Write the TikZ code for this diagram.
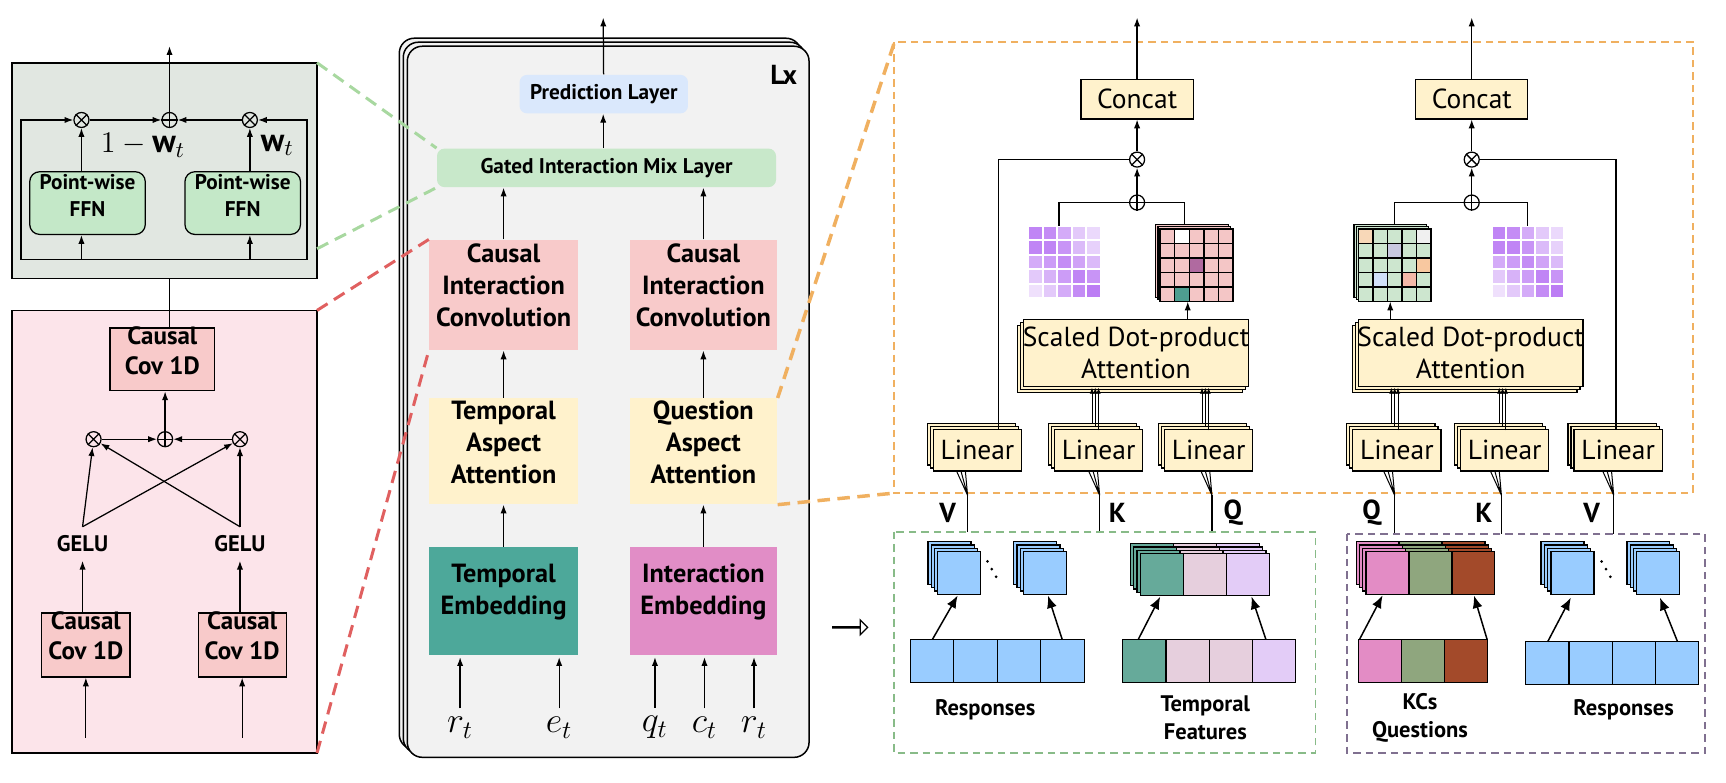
\documentclass[tikz,border=0pt]{standalone}
\usepackage{fontspec}
\setmainfont{PT Sans}
\usetikzlibrary{arrows.meta,shadows,fit,shapes.arrows,calc}
\definecolor{panelgray}{HTML}{E1E7E1}
\definecolor{panelpink}{HTML}{FCE4EA}
\definecolor{ffngreen}{HTML}{C4E8C8}
\definecolor{cpink}{HTML}{F8CACA}
\definecolor{predblue}{HTML}{DAE8FC}
\definecolor{gatedgreen}{HTML}{C8E8CA}
\definecolor{yel}{HTML}{FFF2CC}
\definecolor{tealE}{HTML}{4DA89A}
\definecolor{magE}{HTML}{E18DC6}
\definecolor{midgray}{HTML}{F2F2F2}
\definecolor{mpurple}{HTML}{B066F2}
\definecolor{mpink}{HTML}{F4C6C6}
\definecolor{mgreen}{HTML}{CDE6CF}
\definecolor{sA}{HTML}{B06AA0}
\definecolor{sB}{HTML}{4E9E90}
\definecolor{sC}{HTML}{F8D8B8}
\definecolor{sD}{HTML}{F0F0F0}
\definecolor{sE}{HTML}{C8C8E0}
\definecolor{sF}{HTML}{F8C8A0}
\definecolor{sG}{HTML}{D0E0F8}
\definecolor{sH}{HTML}{F4B8A8}
\definecolor{blueC}{HTML}{99CCFF}
\definecolor{tealC}{HTML}{66AA9A}
\definecolor{lpinkC}{HTML}{E6CFDD}
\definecolor{lvioC}{HTML}{E3CCF7}
\definecolor{kc1}{HTML}{E38CC5}
\definecolor{kc2}{HTML}{8FA67E}
\definecolor{kc3}{HTML}{A34A2A}
\definecolor{orangeD}{HTML}{F0B060}
\definecolor{greenD}{HTML}{88BB88}
\definecolor{purpleD}{HTML}{807090}
\definecolor{redD}{HTML}{E06060}
\definecolor{greenL}{HTML}{A8D8A0}
\tikzset{
  x=0.44pt,y=-0.44pt,
  arr/.style={-{Latex[length=3.5pt,width=2.5pt]},line width=0.5pt},
  ln/.style={line width=0.5pt},
  bx/.style={inner sep=0pt,align=center,font=\bfseries\fontsize{10.5}{12.8}\selectfont},
  lbox/.style={bx,draw,line width=0.5pt,rounded corners=4pt,fill=ffngreen,font=\bfseries\fontsize{8.5}{10.5}\selectfont},
  cbox/.style={bx,draw,line width=0.5pt,fill=cpink,font=\bfseries\fontsize{10}{12}\selectfont},
  opn/.style={circle,draw,line width=0.5pt,minimum size=6pt,inner sep=0pt},
  ctext/.style={label={[font=\fontsize{11}{13}\selectfont,align=center,inner sep=0pt]center:#1}},
  lin/.style={draw,line width=0.5pt,fill=yel,inner sep=0pt,
     double copy shadow={shadow xshift=-1.2pt,shadow yshift=1.2pt}},
  sdpa/.style={draw,line width=0.5pt,fill=yel,inner sep=0pt,
     double copy shadow={shadow xshift=-1.2pt,shadow yshift=-1.2pt}},
  lab/.style={font=\bfseries\fontsize{9}{11}\selectfont,align=center},
  qkv/.style={font=\bfseries\fontsize{11}{13}\selectfont},
}
\newcommand\otimesnode[3]{\node[opn] (#1) at (#2,#3) {}; \draw[ln] (#1.north west)--(#1.south east) (#1.north east)--(#1.south west);}
\newcommand\oplusnode[3]{\node[opn] (#1) at (#2,#3) {}; \draw[ln] (#1.north)--(#1.south) (#1.east)--(#1.west);}
\newcommand\purplemat[2]{%
 \foreach \vals [count=\r from 0] in {{80,75,55,35,25},{80,80,70,45,30},{55,65,75,60,45},{35,50,65,80,70},{20,35,55,75,85}}{%
  \foreach \v [count=\c from 0] in \vals {%
   \filldraw[fill=mpurple!\v!white,draw=white,line width=0.8pt] ({#1+\c*13.2},{#2+\r*13.2}) rectangle +(13.2,13.2);
  }}}
\newcommand\gridmat[4]{% x0 y0 color specials
 \filldraw[fill=#3,line width=0.5pt] ({#1-4},{#2-4}) rectangle +(66,66);
 \filldraw[fill=#3,line width=0.5pt] ({#1-2},{#2-2}) rectangle +(66,66);
 \filldraw[fill=#3,line width=0.5pt] (#1,#2) rectangle +(66,66);
 \foreach \sr/\sc/\col in {#4} {\fill[\col] ({#1+\sc*13.2},{#2+\sr*13.2}) rectangle +(13.2,13.2);}
 \foreach \k in {1,2,3,4} {\draw[line width=0.6pt] ({#1+\k*13.2},#2) -- +(0,66); \draw[line width=0.6pt] (#1,{#2+\k*13.2}) -- +(66,0);}
 \draw[line width=0.6pt] (#1,#2) rectangle +(66,66);}
\newcommand\stackrow[5]{% x0 y0 cellw cellh colors
 \foreach \col [count=\i from 0] in {#5} {\filldraw[fill=\col,line width=0.5pt] ({#1+\i*#3},#2) rectangle +(#3,#4);}}
\begin{document}
\begin{tikzpicture}
\useasboundingbox (0,0) rectangle (1568,711);
% ================= LEFT TOP PANEL
\draw[line width=0.7pt,fill=panelgray] (11,57) rectangle (288,253);
\node[lbox,fit={(27,156)(132,213)}] (ffnL) {Point-wise\\FFN};
\node[lbox,fit={(168,156)(273,213)}] (ffnR) {Point-wise\\FFN};
\otimesnode{mL}{74}{109}
\oplusnode{pT}{154}{109}
\otimesnode{mR}{227}{109}
\coordinate (topout) at (154,42);
\draw[arr] (pT) -- (topout);
\draw[arr] (ffnL.north-|mL) -- (mL);
\draw[arr] (ffnR.north-|mR) -- (mR);
\draw[arr] (mL) -- (pT);
\draw[arr] (mR) -- (pT);
\draw[ln] (19,236) -- (279,236);
\draw[arr] (19,236) |- (mL);
\draw[arr] (279,236) |- (mR);
\draw[arr] (74,236) -- (ffnL.south-|74,0);
\draw[arr] (227,236) -- (ffnR.south-|227,0);
\node[font=\fontsize{13}{15}\selectfont] at (130,132) {$1-\mathbf{w}_t$};
\node[font=\fontsize{13}{15}\selectfont] at (252,132) {$\mathbf{w}_t$};
% ================= LEFT BOTTOM PANEL
\draw[line width=0.7pt,fill=panelpink] (11,282) rectangle (288,684);
\node[cbox,fit={(100,298)(195,355)}] (ccTop) {Causal\\Cov 1D};
\draw[ln] (154,253) -- (ccTop.north-|154,0);
\oplusnode{pB}{150}{399}
\otimesnode{mBL}{85}{399}
\otimesnode{mBR}{218}{399}
\draw[arr] (pB) -- (ccTop.south-|pB);
\draw[arr] (mBL) -- (pB);
\draw[arr] (mBR) -- (pB);
\node[lab] (geluL) at (75,494) {GELU};
\node[lab] (geluR) at (218,494) {GELU};
\draw[arr] (geluL.north) -- (mBL);
\draw[arr] (geluL.north) -- (mBR);
\draw[arr] (geluR.north) -- (mBR);
\draw[arr] (geluR.north) -- (mBL);
\node[cbox,fit={(38,557)(118,615)}] (ccL) {Causal\\Cov 1D};
\node[cbox,fit={(180,557)(260,615)}] (ccR) {Causal\\Cov 1D};
\draw[arr] (ccL.north-|75,0) -- (geluL.south);
\draw[arr] (ccR.north-|218,0) -- (geluR.south);
\coordinate (inL) at (78,670); \coordinate (inR) at (220,670);
\draw[arr] (inL) -- (ccL.south-|inL);
\draw[arr] (inR) -- (ccR.south-|inR);
% ================= MIDDLE PANEL
\node[draw,line width=0.6pt,fill=midgray,rounded corners=6pt,inner sep=0pt,
  double copy shadow={shadow xshift=-1.6pt,shadow yshift=1.6pt},fit={(370,42)(735,688)}] (mid) {};
\node[font=\bfseries\fontsize{11}{13}\selectfont] at (712,68) {Lx};
\node[fill=predblue,rounded corners=3pt,inner sep=0pt,fit={(472,68)(625,103)},label={[font=\bfseries\fontsize{8.5}{10}\selectfont]center:Prediction Layer}] (pred) {};
\node[fill=gatedgreen,rounded corners=3pt,inner sep=0pt,fit={(397,135)(705,170)},label={[font=\bfseries\fontsize{8.5}{10}\selectfont]center:Gated Interaction Mix Layer}] (gated) {};
\coordinate (midout) at (548,16);
\draw[arr] (pred) -- (midout);
\draw[arr] (gated.north-|548,0) -- (pred.south-|548,0);
\node[bx,fill=cpink,fit={(390,218)(525,318)}] (convL) {Causal\\Interaction\\Convolution};
\node[bx,fill=cpink,fit={(572,218)(706,318)}] (convR) {Causal\\Interaction\\Convolution};
\node[bx,fill=yel,fit={(390,362)(525,458)}] (attL) {Temporal\\Aspect\\Attention};
\node[bx,fill=yel,fit={(572,362)(706,458)}] (attR) {Question\\Aspect\\Attention};
\node[bx,fill=tealE,fit={(390,497)(525,595)}] (embL) {Temporal\\Embedding};
\node[bx,fill=magE,fit={(572,497)(706,595)}] (embR) {Interaction\\Embedding};
\foreach \a/\b in {embL/attL,attL/convL,embR/attR,attR/convR}{\draw[arr] (\a) -- (\b);}
\draw[arr] (convL) -- (convL|-gated.south);
\draw[arr] (convR) -- (convR|-gated.south);
\foreach \x/\t in {418/r_t,508/e_t,595/q_t,640/c_t,685/r_t}{
  \node[font=\fontsize{14}{16}\selectfont] (in\x) at (\x,661) {$\t$};
  \draw[arr] (in\x.north) -- (\x,597);}
% dashed zoom lines
\draw[greenL,line width=1.2pt,dash pattern=on 5pt off 3pt] (288,57) -- (gated.north west);
\draw[greenL,line width=1.2pt,dash pattern=on 5pt off 3pt] (288,226) -- (gated.south west);
\draw[redD,line width=1.2pt,dash pattern=on 5pt off 3pt] (288,282) -- (convL.north west);
\draw[redD,line width=1.2pt,dash pattern=on 5pt off 3pt] (288,684) -- (convL.south west);
% ================= RIGHT ATTENTION
\draw[orangeD,line width=0.8pt,dash pattern=on 3pt off 2pt] (812,38) rectangle (1538,448);
\draw[orangeD,line width=1.4pt,dash pattern=on 5pt off 3pt] (attR.north east) -- (812,40);
\draw[orangeD,line width=1.4pt,dash pattern=on 5pt off 3pt] (attR.south east) -- (812,448);
\node[lin,ctext=Linear,fit={(848,390)(928,428)}] (linV1) {};
\node[lin,ctext=Linear,fit={(958,390)(1038,428)}] (linK1) {};
\node[lin,ctext=Linear,fit={(1058,390)(1138,428)}] (linQ1) {};
\node[lin,ctext=Linear,fit={(1229,390)(1309,428)}] (linQ2) {};
\node[lin,ctext=Linear,fit={(1327,390)(1407,428)}] (linK2) {};
\node[lin,ctext=Linear,fit={(1430,390)(1510,428)}] (linV2) {};
\node[sdpa,ctext={Scaled Dot-product\\Attention},fit={(930,290)(1134,351)}] (sd1) {};
\node[sdpa,ctext={Scaled Dot-product\\Attention},fit={(1234,290)(1438,351)}] (sd2) {};
\node[draw,line width=0.5pt,fill=yel,inner sep=0pt,ctext=Concat,fit={(982,72)(1084,108)}] (cc1) {};
\node[draw,line width=0.5pt,fill=yel,inner sep=0pt,ctext=Concat,fit={(1286,72)(1388,108)}] (cc2) {};
\otimesnode{hm1}{1033}{145}
\oplusnode{hp1}{1033}{184}
\otimesnode{hm2}{1337}{145}
\oplusnode{hp2}{1337}{184}
\coordinate (o1) at (1033,16); \coordinate (o2) at (1337,16);
\draw[arr] (cc1) -- (o1); \draw[arr] (cc2) -- (o2);
\draw[arr] (hm1) -- (cc1); \draw[arr] (hm2) -- (cc2);
\draw[arr] (hp1) -- (hm1); \draw[arr] (hp2) -- (hm2);
\draw[ln] (linV1.north-|907,0) |- (hm1.west);
\draw[ln] (linV2.north-|1468,0) |- (hm2.east);
\purplemat{934}{205}
\gridmat{1054}{208}{mpink}{0/1/white,2/2/sA,4/1/sB}
\gridmat{1234}{208}{mgreen}{0/0/sC,0/4/sD,1/2/sE,2/4/sF,3/1/sG,3/3/sH}
\purplemat{1355}{205}
\draw[ln] (962,205) |- (hp1.west);
\draw[ln] (1076,204) |- (hp1.east);
\draw[ln] (1267,204) |- (hp2.west);
\draw[ln] (1388,205) |- (hp2.east);
\draw[arr] (sd1.north-|1079,0) -- (1079,274);
\draw[arr] (sd2.north-|1263,0) -- (1263,274);
\foreach \x in {995,1095,1267,1365}{
  \foreach \d in {-3,0,3}{\draw[line width=0.35pt,-{Latex[length=2.5pt,width=1.8pt]}] (\x+\d,388+\d) -- (\x+\d,352);}}
\foreach \x/\y in {879/483,999/483,1101/483,1267/485,1364/485,1466/485}{
  \draw[line width=0.4pt] (\x-10,428) -- (\x,450) (\x-6,428) -- (\x,450) (\x-2,428)--(\x,450);
  \draw[ln] (\x,450) -- (\x,\y);}
\node[qkv] at (861,466) {V};
\node[qkv] at (1015,466) {K};
\node[qkv] at (1120,466) {Q};
\node[qkv] at (1246,466) {Q};
\node[qkv] at (1348,466) {K};
\node[qkv] at (1446,466) {V};
% ================= BOTTOM INPUTS
\node[draw,single arrow,line width=0.5pt,fill=white,minimum height=14pt,single arrow head extend=2.5pt,minimum width=6pt,inner sep=0pt] (bigarr) at (772,570) {};
\draw[greenD,line width=0.7pt,dash pattern=on 3pt off 2pt] (812,483) rectangle (1195,684);
\draw[purpleD,line width=0.7pt,dash pattern=on 3pt off 2pt] (1224,485) rectangle (1549,684);
\foreach \x in {852,930,1409,1487}{
  \foreach \o in {9,6,3,0}{\filldraw[fill=blueC,line width=0.5pt] (\x-\o,501-\o) rectangle +(39,39);}}
\foreach \x/\y in {897/510,901/517,905/524}{\fill (\x,\y) circle (0.6pt);}
\foreach \x/\y in {1455/510,1459/517,1463/524}{\fill (\x,\y) circle (0.6pt);}
\foreach \o in {9,6,3}{\stackrow{1036-\o}{503-\o}{39}{38}{tealC,lpinkC,lvioC}}
\stackrow{1036}{503}{39}{38}{tealC,lpinkC,lvioC}
\foreach \o in {9,6,3}{\stackrow{1241-\o}{501-\o}{39}{39}{kc1,kc2,kc3}}
\stackrow{1241}{501}{39}{39}{kc1,kc2,kc3}
\stackrow{827}{581}{39.5}{39}{blueC,blueC,blueC,blueC}
\stackrow{1020}{581}{39.3}{39}{tealC,lpinkC,lpinkC,lvioC}
\stackrow{1234}{581}{39}{39}{kc1,kc2,kc3}
\stackrow{1386}{583}{39.3}{39}{blueC,blueC,blueC,blueC}
\foreach \a/\b/\c/\d in {847/581/870/541,965/581/952/541,1034/581/1054/542,1150/581/1137/542,1235/581/1256/541,1351/581/1339/541,1406/583/1427/543,1524/583/1508/543}{
  \draw[-{Latex[length=5pt,width=4pt]},line width=0.6pt] (\a,\b) -- (\c,\d);}
\node[lab] at (895,645) {Responses};
\node[lab] at (1095,652) {Temporal\\Features};
\node[lab] at (1290,652) {KCs\\Questions};
\node[lab] at (1475,645) {Responses};
\end{tikzpicture}
\end{document}
